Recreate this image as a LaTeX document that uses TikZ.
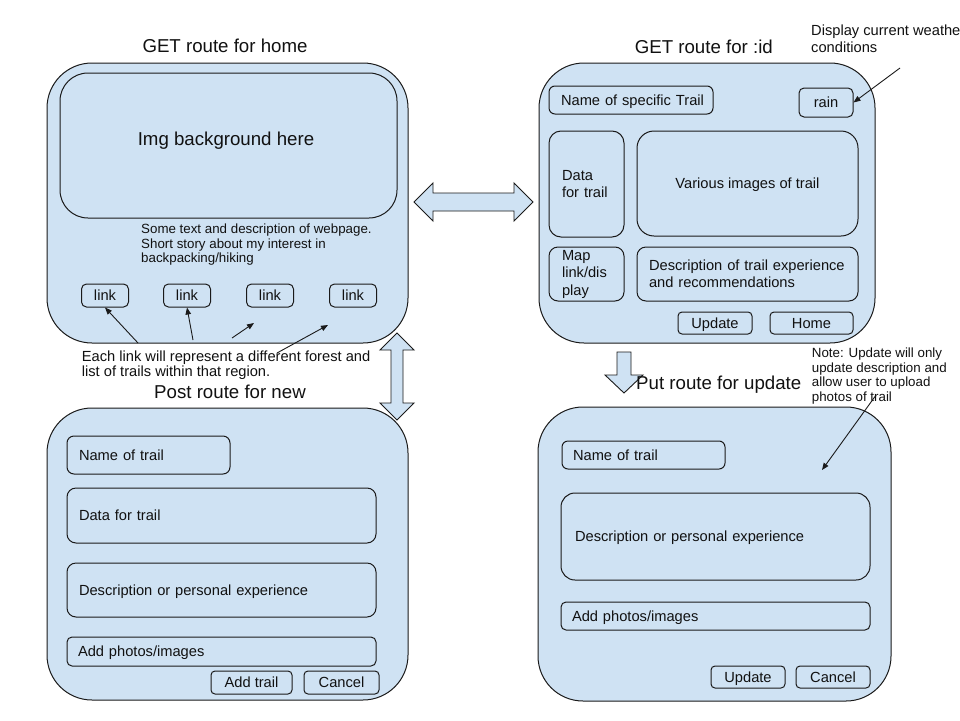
\documentclass[tikz,border=0pt]{standalone}
\usepackage{fontspec}
\setmainfont{Liberation Sans}
\usetikzlibrary{arrows.meta}
\definecolor{boxblue}{HTML}{CFE2F3}
\definecolor{linec}{HTML}{1A1A1A}
\definecolor{txtc}{HTML}{111111}
\newcommand{\ttlfont}{\fontsize{18.67}{21}\selectfont}
\newcommand{\fldfont}{\fontsize{14.67}{17.5}\selectfont}
\newcommand{\annfont}{\fontsize{13.33}{14.7}\selectfont}
\newcommand{\annbfont}{\fontsize{14.67}{16.3}\selectfont}
\tikzset{
  panel/.style={draw=linec, fill=boxblue, line width=1pt, rounded corners=45pt, inner sep=0pt},
  fld/.style={draw=linec, fill=boxblue, line width=1pt, inner ysep=0pt, inner xsep=0pt, font=\fldfont, text=txtc},
  oneline/.style={text height=13.3pt, text depth=3.1pt},
  lefttext/.style={align=left},
  ttl/.style={font=\ttlfont, text=txtc, inner sep=0pt},
  ann/.style={font=\annfont, text=txtc, inner sep=0pt, align=left},
  annb/.style={font=\annbfont, text=txtc, inner sep=0pt, align=left},
  ptr/.style={draw=linec, line width=0.9pt, -{Triangle[length=7pt,width=5.5pt]}},
  blockarrow/.style={draw=linec, fill=boxblue, line width=0.9pt, line join=miter}
}
\begin{document}
\begin{tikzpicture}[x=1pt,y=-1pt]
\useasboundingbox (0,0) rectangle (960,720);
\fill[white] (0,0) rectangle (960,720);

% ---------- panels ----------
\node[panel, minimum width=361pt, minimum height=280pt] (home) at (227.5,203) {};
\node[panel, minimum width=336pt, minimum height=280pt] (show) at (707,203) {};
\node[panel, minimum width=361pt, minimum height=292pt] (new) at (227.5,554) {};
\node[panel, minimum width=353pt, minimum height=294pt] (upd) at (714.5,554) {};

% ---------- block arrows ----------
\draw[blockarrow] (414,202) -- (433,183) -- (433,193) -- (514,193) -- (514,183) -- (533,202)
  -- (514,221) -- (514,211) -- (433,211) -- (433,221) -- cycle;
\draw[blockarrow] (397,333) -- (414,350) -- (403,350) -- (403,403) -- (414,403) -- (397,420)
  -- (380,403) -- (391,403) -- (391,350) -- (380,350) -- cycle;
\draw[blockarrow] (617,352) -- (631,352) -- (631,375) -- (643,375) -- (624,393) -- (605,375)
  -- (617,375) -- cycle;

% ---------- titles ----------
\node[ttl, anchor=base] (homeT) at (225,52.7) {GET route for home};
\node[ttl, anchor=base] (showT) at (703.8,53.3) {GET route for :id};
\node[ttl, anchor=base] (newT) at (230,398.5) {Post route for new};
\node[ttl, anchor=base west] (updT) at (636,389.3) {Put route for update};

% ---------- GET home ----------
\node[fld, rounded corners=28pt, minimum width=337pt, minimum height=145pt] (img) at (228.5,145.5) {};
\node[ttl, anchor=base] (imgT) at (226,145) {Img background here};
\node[ann, anchor=west] (intro) at (141,244.6) {Some text and description of webpage.\\Short story about my interest in\\backpacking/hiking};
\node[fld, oneline, rounded corners=5pt, minimum width=47pt, minimum height=23pt] (l1) at (105,295.5) {link};
\node[fld, oneline, rounded corners=5pt, minimum width=47pt, minimum height=23pt] (l2) at (187,295.5) {link};
\node[fld, oneline, rounded corners=5pt, minimum width=47pt, minimum height=23pt] (l3) at (270,295.5) {link};
\node[fld, oneline, rounded corners=5pt, minimum width=47pt, minimum height=23pt] (l4) at (353,295.5) {link};

\node[annb, anchor=west, font=\fontsize{14.67}{15}\selectfont] (linknote) at (81.7,365) {Each link will represent a different forest and\\list of trails within that region.};
\coordinate (a1s) at (138,343);
\coordinate (a2s) at (193,340);
\coordinate (a3s) at (232,338);
\coordinate (a3e) at (254,323);
\coordinate (a4s) at (277,353);
\coordinate (a4e) at (328,325);
\draw[ptr] (a1s) -- (l1.south);
\draw[ptr] (a2s) -- (l2.south);
\draw[ptr] (a3s) -- (a3e);
\draw[ptr] (a4s) -- (a4e);

% ---------- GET :id ----------
\node[fld, oneline, lefttext, rounded corners=6pt, minimum width=164pt, minimum height=28pt, text width=140pt, inner xsep=12pt] (sname) at (631,100) {\mbox{Name of specific Trail}};
\node[fld, oneline, rounded corners=5pt, minimum width=54pt, minimum height=29pt] (rain) at (826,102.5) {rain};
\node[fld, lefttext, rounded corners=12pt, minimum width=75pt, minimum height=106pt, text width=49pt, inner xsep=13pt] (sdata) at (586.5,184) {Data\\for trail};
\node[fld, oneline, rounded corners=17pt, minimum width=221pt, minimum height=105pt] (simgs) at (747.5,183.5) {Various images of trail};
\node[fld, lefttext, rounded corners=9pt, minimum width=75pt, minimum height=54pt, text width=49pt, inner xsep=13pt] (smap) at (586.5,274) {Map\\link/dis\\play};
\node[fld, lefttext, rounded corners=9pt, minimum width=221pt, minimum height=54pt, text width=197pt, inner xsep=12pt] (sdesc) at (747.5,274) {Description of trail experience\\and recommendations};
\node[fld, oneline, rounded corners=4pt, minimum width=74pt, minimum height=22pt] (supd) at (715,323) {Update};
\node[fld, oneline, rounded corners=4pt, minimum width=83pt, minimum height=22pt] (shome) at (811.5,323) {Home};

\node[annb, anchor=west] (wnote) at (811,38.8) {Display current weathe\\conditions};
\coordinate (ws) at (900,68);
\draw[ptr] (ws) -- (rain.east);

% ---------- Post new ----------
\node[fld, oneline, lefttext, rounded corners=7pt, minimum width=163pt, minimum height=38pt, text width=139pt, inner xsep=12pt] (nname) at (148.5,455) {Name of trail};
\node[fld, oneline, lefttext, rounded corners=9pt, minimum width=309pt, minimum height=55pt, text width=285pt, inner xsep=12pt] (ndata) at (221.5,515.5) {Data for trail};
\node[fld, oneline, lefttext, rounded corners=9pt, minimum width=309pt, minimum height=54pt, text width=285pt, inner xsep=12pt] (ndesc) at (221.5,590) {Description or personal experience};
\node[fld, oneline, lefttext, rounded corners=5pt, minimum width=309pt, minimum height=29pt, text width=287pt, inner xsep=11pt] (nphoto) at (221.5,651.5) {Add photos/images};
\node[fld, oneline, rounded corners=4pt, minimum width=81pt, minimum height=23pt] (nadd) at (251.5,682.5) {Add trail};
\node[fld, oneline, rounded corners=4pt, minimum width=75pt, minimum height=23pt] (ncancel) at (341.5,682.5) {Cancel};

% ---------- Put update ----------
\node[fld, oneline, lefttext, rounded corners=6pt, minimum width=163pt, minimum height=28pt, text width=141pt, inner xsep=11pt] (uname) at (643.5,455) {Name of trail};
\node[fld, oneline, lefttext, rounded corners=14pt, minimum width=309pt, minimum height=87pt, text width=281pt, inner xsep=14pt] (udesc) at (715.5,536.5) {Description or personal experience};
\node[fld, oneline, lefttext, rounded corners=5pt, minimum width=309pt, minimum height=28pt, text width=287pt, inner xsep=11pt] (uphoto) at (715.5,616) {Add photos/images};
\node[fld, oneline, rounded corners=4pt, minimum width=74pt, minimum height=22pt] (uupd) at (748,677) {Update};
\node[fld, oneline, rounded corners=4pt, minimum width=74pt, minimum height=22pt] (ucancel) at (833,677) {Cancel};

\node[ann, anchor=west] (unote) at (811.7,376) {Note: Update will only\\update description and\\allow user to upload\\photos of trail};
\coordinate (us) at (875,396.5);
\coordinate (ue) at (822,470);
\draw[ptr] (us) -- (ue);
\end{tikzpicture}
\end{document}
